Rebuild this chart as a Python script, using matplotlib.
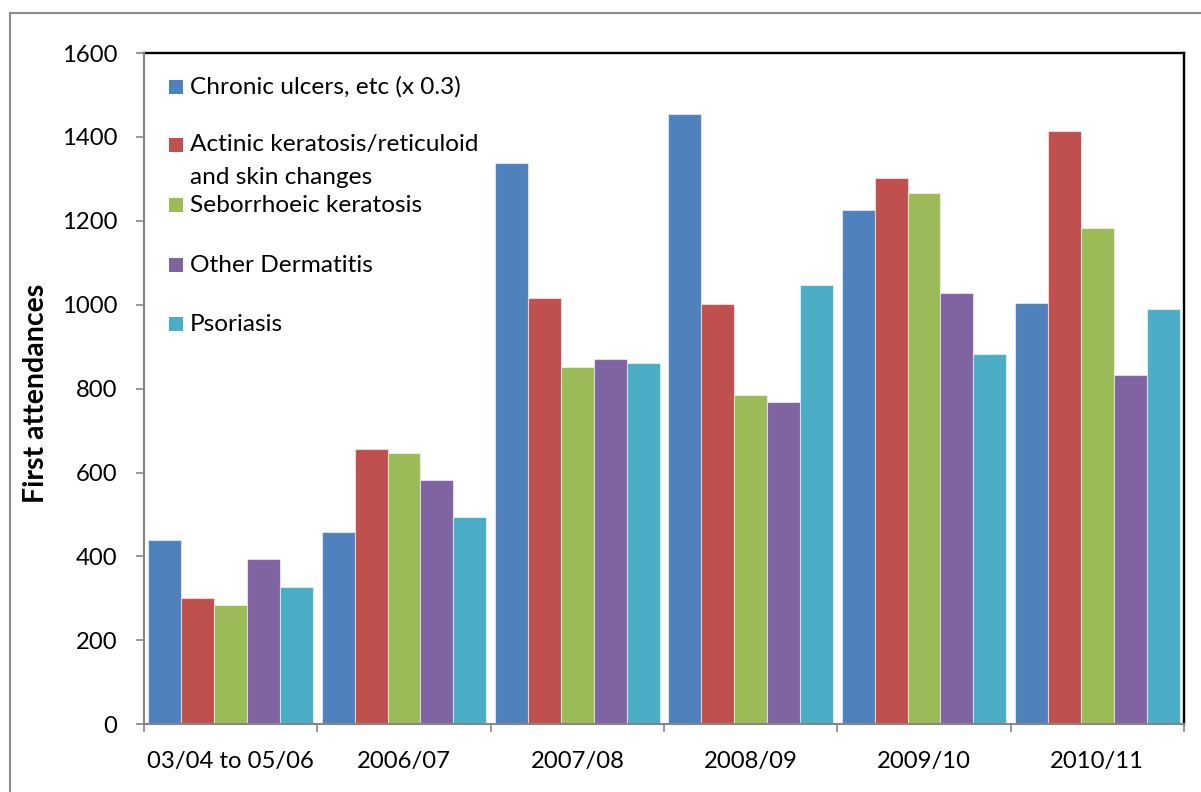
import matplotlib
matplotlib.use("Agg")
import matplotlib.pyplot as plt
from matplotlib.patches import Rectangle
import numpy as np

plt.rcParams['font.family'] = ['Lato', 'DejaVu Sans']

categories = ["03/04 to 05/06", "2006/07", "2007/08", "2008/09", "2009/10", "2010/11"]
series_names = [
    "Chronic ulcers, etc (x 0.3)",
    "Actinic keratosis/reticuloid\nand skin changes",
    "Seborrhoeic keratosis",
    "Other Dermatitis",
    "Psoriasis",
]
chronic_ulcers = [439, 459, 1339, 1454, 1225, 1005]
actinic_keratosis = [301, 657, 1016, 1002, 1302, 1415]
seborrhoeic_keratosis = [284, 647, 852, 784, 1267, 1183]
other_dermatitis = [394, 582, 871, 767, 1028, 832]
psoriasis = [327, 495, 861, 1048, 883, 990]
series_values = [chronic_ulcers, actinic_keratosis, seborrhoeic_keratosis,
                 other_dermatitis, psoriasis]
colors = ["#4F81BD", "#C0504D", "#9BBB59", "#8064A2", "#4BACC6"]
y_ticks = [0, 200, 400, 600, 800, 1000, 1200, 1400, 1600]

W, H = 1201, 792
fig = plt.figure(figsize=(W / 100, H / 100), dpi=100)

# plot area in pixel terms
left, right, top, bottom = 144, 1184, 53, 724.3
ax = fig.add_axes([left / W, 1 - bottom / H, (right - left) / W, (bottom - top) / H])

x = np.arange(len(categories))
bw = 0.19
for j, (vals, c) in enumerate(zip(series_values, colors)):
    ax.bar(x + (j - 2) * bw, vals, width=bw, color=c,
           edgecolor=(1, 1, 1, 0.55), linewidth=0.8, zorder=2)

ax.set_xlim(-0.5, len(categories) - 0.5)
ax.set_ylim(0, 1600)

gray = "#868686"
for s in ("left", "bottom"):
    ax.spines[s].set_color(gray)
    ax.spines[s].set_linewidth(1.5)
    ax.spines[s].set_zorder(4)
for s in ("top", "right"):
    ax.spines[s].set_color("black")
    ax.spines[s].set_linewidth(1.7)

ax.set_yticks(y_ticks)
ax.set_yticklabels([str(v) for v in y_ticks])
ax.tick_params(axis="y", direction="out", length=6, width=1.2, color=gray,
               labelsize=17.2, pad=13)

# category boundaries carry the tick marks, labels sit at the centres
ax.set_xticks(np.arange(len(categories) + 1) - 0.5)
ax.set_xticklabels([])
ax.tick_params(axis="x", which="major", direction="out", length=6, width=1.2, color=gray)
ax.set_xticks(x, minor=True)
ax.set_xticklabels(categories, minor=True)
ax.tick_params(axis="x", which="minor", length=0, labelsize=17.2, pad=19)

# legend drawn inside the plot area
def px_to_ax(px, py):
    return (px - left) / (right - left), (bottom - py) / (bottom - top)

legend_rows = [
    (87, [(93.3, series_names[0])]),
    (145, [(151, "Actinic keratosis/reticuloid"), (184.3, "and skin changes")]),
    (205, [(211.7, series_names[2])]),
    (265, [(272, series_names[3])]),
    (324, [(330.7, series_names[4])]),
]
sq = 14.5
for (cy, lines), c in zip(legend_rows, colors):
    x0, y0 = px_to_ax(168.5, cy + sq / 2)
    ax.add_patch(Rectangle((x0, y0), sq / (right - left), sq / (bottom - top),
                           transform=ax.transAxes, facecolor=c, edgecolor="none",
                           zorder=5))
    for by, txt in lines:
        tx, ty = px_to_ax(190, by)
        ax.text(tx, ty, txt, transform=ax.transAxes, fontsize=17.6,
                ha="left", va="baseline", zorder=5)

fig.text(36 / W, 1 - 393.5 / H, "First attendances", rotation=90,
         fontsize=20.5, fontweight="bold", ha="center", va="center")

# outer chart border
fig.patches.append(Rectangle((10 / W, -0.05), 1.1, 1 - 13 / H + 0.05,
                             transform=fig.transFigure, facecolor="none",
                             edgecolor="#8c8c8c", linewidth=1.5))

fig.savefig("out.png", dpi=100)
